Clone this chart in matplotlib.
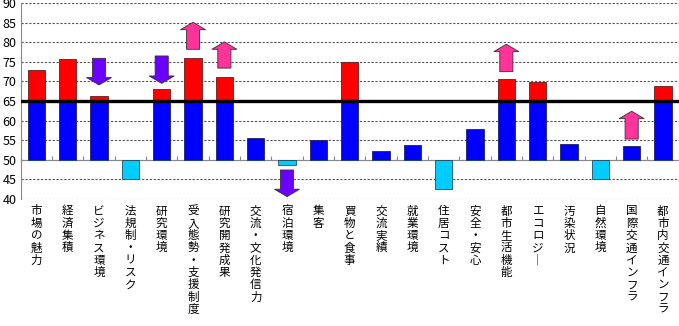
import numpy as np
import matplotlib.pyplot as plt

plt.rcParams['font.family'] = ['Noto Sans CJK JP', 'DejaVu Sans']

# data
categories = ['市場の魅力', '経済集積', 'ビジネス環境', '法規制・リスク', '研究環境',
              '受入態勢・支援制度', '研究開発成果', '交流・文化発信力', '宿泊環境', '集客',
              '買物と食事', '交流実績', '就業環境', '住居コスト', '安全・安心',
              '都市生活機能', 'エコロジー', '汚染状況', '自然環境', '国際交通インフラ',
              '都市内交通インフラ']
scores = [72.8, 75.8, 66.2, 45.0, 68.0, 76.0, 71.2, 55.5, 48.8, 55.0,
          74.9, 52.3, 53.9, 42.5, 57.9, 70.6, 69.8, 54.0, 45.2, 53.6, 68.9]
base = 50
threshold = 65

# change arrows: category index, start value, tip value
arrow_idx = [2, 4, 5, 6, 8, 15, 19]
arrow_from = [75.9, 76.5, 78.2, 73.4, 47.4, 72.5, 55.3]
arrow_to = [69.1, 69.5, 85.1, 80.1, 40.6, 79.5, 62.4]

fig = plt.figure(figsize=(6.79, 3.26), dpi=100)
ax = fig.add_axes([0.0305, 0.3896, 0.969, 0.601])

x = np.arange(len(categories))
v = np.array(scores)
w = 0.55

# blue part between base and threshold (or value)
blue_top = np.clip(v, base, threshold)
ax.bar(x, blue_top - base, w, bottom=base, color='#0000FF', edgecolor='#202060', linewidth=0.6, zorder=3)
# red part above threshold
red_h = np.clip(v - threshold, 0, None)
ax.bar(x, red_h, w, bottom=threshold, color='#FF0000', edgecolor='#602020', linewidth=0.6, zorder=3)
# cyan part below base
cyan_h = np.clip(base - v, 0, None)
ax.bar(x, cyan_h, w, bottom=base - cyan_h, color='#00CCFF', edgecolor='#205060', linewidth=0.6, zorder=3)

ax.axhline(threshold, color='black', linewidth=2.4, zorder=4)

for i, y0, y1 in zip(arrow_idx, arrow_from, arrow_to):
    col = '#FF3399' if y1 > y0 else '#6A00FF'
    ax.arrow(i, y0, 0, y1 - y0, width=0.42, head_width=0.8, head_length=1.9,
             length_includes_head=True, facecolor=col, edgecolor='#333333',
             linewidth=0.6, zorder=5)

ax.set_xlim(-0.5, len(categories) - 0.5)
ax.set_ylim(40, 90)
ax.set_yticks(np.arange(40, 91, 5))
ax.yaxis.grid(True, linestyle=(0, (2, 1.5)), color='#555555', linewidth=0.8, zorder=0)
ax.tick_params(axis='y', length=0, labelsize=9, pad=3)

# x axis sits on the base line with small inward ticks at boundaries
ax.spines['bottom'].set_position(('data', base))
ax.spines['bottom'].set_color('#888888')
ax.spines['left'].set_color('#888888')
ax.spines['top'].set_visible(False)
ax.spines['right'].set_visible(False)
ax.set_xticks(np.arange(len(categories) + 1) - 0.5)
ax.tick_params(axis='x', direction='in', length=3, color='#888888', labelbottom=False)

# vertical (stacked) category labels
for i, name in enumerate(categories):
    txt = '\n'.join(name.replace('ー', '｜'))
    ax.text(i, -0.028, txt, transform=ax.get_xaxis_transform(), ha='center', va='top',
            fontsize=8.3, linespacing=0.93)

fig.savefig('out.png', dpi=100)
